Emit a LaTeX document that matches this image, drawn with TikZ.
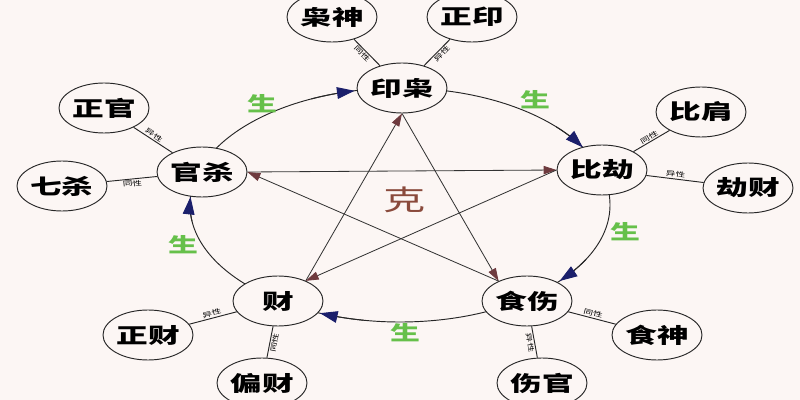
\documentclass[tikz,border=0pt]{standalone}
\usepackage{fontspec}
\newfontfamily\cjk{Noto Sans CJK SC}[FakeStretch=1.5]
\usetikzlibrary{arrows.meta,shapes.geometric}
\definecolor{bg}{HTML}{FCF6F4}
\definecolor{navy}{HTML}{1B1F6B}
\definecolor{maroon}{HTML}{6E3A3E}
\definecolor{sheng}{HTML}{66C04A}
\definecolor{kecol}{HTML}{8A4A3C}
\begin{document}
\begin{tikzpicture}[x=0.03cm,y=-0.03cm,
  nd/.style={ellipse, draw=black!85, line width=0.8pt, fill=bg, minimum width=2.7cm, minimum height=1.5cm, inner sep=0pt, font=\cjk\bfseries\fontsize{18}{18}\selectfont},
  con/.style={draw=black!85, line width=0.8pt},
  lab/.style={font=\cjk\fontsize{5.5}{5.5}\selectfont, sloped, inner sep=1pt},
  cyc/.style={draw=black!85, line width=0.8pt, -{Triangle[length=15pt,width=10pt,color=navy]}},
  starr/.style={draw=black!80, line width=0.7pt, -{Triangle[length=11pt,width=7pt,color=maroon]}},
  shg/.style={text=sheng, font=\cjk\bfseries\fontsize{17}{17}\selectfont},
]
\fill[bg] (0,0) rectangle (800,400);
\useasboundingbox (0,0) rectangle (800,400);
% cycle
\draw[con] (400,205) ellipse [x radius=6.3cm, y radius=3.51cm];
% main nodes
\node[nd] (yx) at (402,88) {印枭};
\node[nd] (bj) at (602,170) {比劫};
\node[nd] (ss) at (527,301) {食伤};
\node[nd] (cai) at (278,301) {财};
\node[nd] (gs) at (202,172) {官杀};
% outer nodes
\node[nd] (xs) at (332,17) {枭神};
\node[nd] (zy) at (472,17) {正印};
\node[nd] (zg) at (104,108) {正官};
\node[nd] (qs) at (62,186) {七杀};
\node[nd] (bjian) at (701,112) {比肩};
\node[nd] (jc) at (748,188) {劫财};
\node[nd] (zc) at (148,335) {正财};
\node[nd] (pc) at (262,383) {偏财};
\node[nd] (shs) at (657,335) {食神};
\node[nd] (sgu) at (542,383) {伤官};
% outer connectors
\draw[con] (xs) -- node[lab,below,pos=0.44] {同性} (yx);
\draw[con] (zy) -- node[lab,below,pos=0.44] {异性} (yx);
\draw[con] (zg) -- node[lab,above,pos=0.46] {异性} (gs);
\draw[con] (qs) -- node[lab,below] {同性} (gs);
\draw[con] (bjian) -- node[lab,above] {同性} (bj);
\draw[con] (jc) -- node[lab,above] {异性} (bj);
\draw[con] (zc) -- node[lab,above] {异性} (cai);
\draw[con] (pc) -- node[lab,below] {同性} (cai);
\draw[con] (shs) -- node[lab,above] {同性} (ss);
\draw[con] (sgu) -- node[lab,below] {异性} (ss);
% cycle arrows
\draw[cyc] plot[domain=115:102.5, samples=12] ({400+210*cos(\x)},{205-117*sin(\x)});
\draw[cyc] plot[domain=42:29.5, samples=12] ({400+210*cos(\x)},{205-117*sin(\x)});
\draw[cyc] plot[domain=-28:-40.5, samples=12] ({400+210*cos(\x)},{205-117*sin(\x)});
\draw[cyc] plot[domain=-100:-112.4, samples=12] ({400+210*cos(\x)},{205-117*sin(\x)});
\draw[cyc] plot[domain=188:176, samples=12] ({400+210*cos(\x)},{205-117*sin(\x)});
% star
\draw[starr] (gs.east) -- (bj.west);
\draw[starr] (cai.36) -- (yx.south);
\draw[starr] (yx.south) -- (ss.145);
\draw[starr] (bj.west) -- (cai.36);
\draw[starr] (ss.145) -- (gs.east);
% labels
\node[shg] at (262,104) {生};
\node[shg] at (535,100) {生};
\node[shg] at (625,232) {生};
\node[shg] at (405,333) {生};
\node[shg] at (183,245) {生};
\node[text=kecol, font=\cjk\fontsize{24}{24}\selectfont] at (405,200) {克};
\end{tikzpicture}
\end{document}
